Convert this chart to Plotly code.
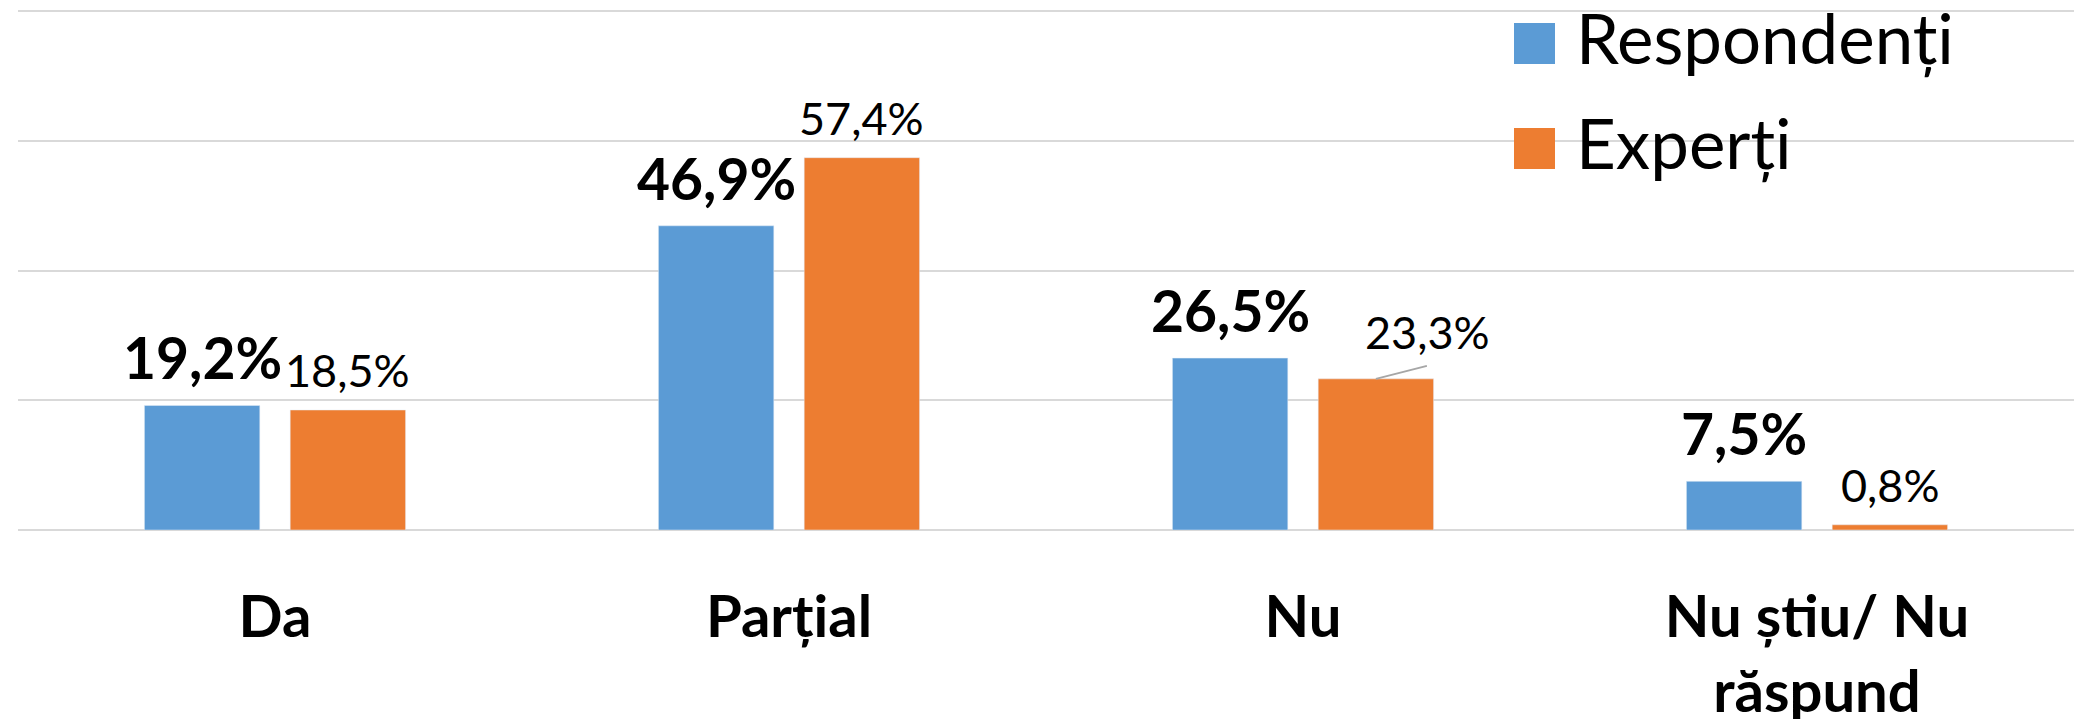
import plotly.graph_objects as go

# ---- data ----
categories = ["Da", "Parțial", "Nu", "Nu știu/ Nu<br>răspund"]
respondenti = [19.2, 46.9, 26.5, 7.5]
experti = [18.5, 57.4, 23.3, 0.8]
series_names = ["Respondenți", "Experți"]
y_ticks = [0, 20, 40, 60, 80]

# ---- style ----
BLUE = "#5B9BD5"
ORANGE = "#ED7D31"
GRID = "#D9D9D9"
FONT = "Lato"
W, H = 2074, 719
ML, MR, MT, MB = 18, 0, 7, 189
Y_MAX = 80.63
BAR_W = 0.2245
GAP = 0.0591
CENTER_OFF = (BAR_W + GAP) / 2
LEADER_INDEX = 2  # experti label moved aside with a leader line

def fmt(v):
    return f"{v:.1f}".replace(".", ",") + "%"

idx = list(range(len(categories)))

fig = go.Figure()
fig.add_trace(go.Bar(x=idx, y=respondenti, name=series_names[0], marker_color=BLUE,
                     width=BAR_W, offset=-BAR_W - GAP / 2, showlegend=False))
fig.add_trace(go.Bar(x=idx, y=experti, name=series_names[1], marker_color=ORANGE,
                     width=BAR_W, offset=GAP / 2, showlegend=False))

annotations = []
shapes = []
for i, v in zip(idx, respondenti):
    annotations.append(dict(x=i - CENTER_OFF, y=v, xref="x", yref="y", text=fmt(v),
                            showarrow=False, yanchor="bottom", xanchor="center", yshift=12,
                            font=dict(family=FONT, size=57, color="black", weight="bold")))
for i, v in zip(idx, experti):
    if i == LEADER_INDEX:
        annotations.append(dict(x=i + CENTER_OFF, y=v, xref="x", yref="y", text=fmt(v),
                                showarrow=False, yanchor="bottom", xanchor="center",
                                xshift=52, yshift=18,
                                font=dict(family=FONT, size=45, color="black")))
        shapes.append(dict(type="line", xref="x", yref="y", xsizemode="pixel", ysizemode="pixel",
                           xanchor=i + CENTER_OFF, yanchor=v, x0=0, y0=0, x1=51, y1=13,
                           line=dict(color="#A6A6A6", width=2)))
    else:
        annotations.append(dict(x=i + CENTER_OFF, y=v, xref="x", yref="y", text=fmt(v),
                                showarrow=False, yanchor="bottom", xanchor="center", yshift=11,
                                font=dict(family=FONT, size=45, color="black")))

# manual legend (large squares)
plot_w = W - ML - MR
plot_h = H - MT - MB
def px_x(p):
    return (p - ML) / plot_w
def px_y(p):
    return (H - MB - p) / plot_h

legend_rows = [(series_names[0], BLUE, 23), (series_names[1], ORANGE, 128)]
for name, col, top in legend_rows:
    shapes.append(dict(type="rect", xref="paper", yref="paper",
                       x0=px_x(1514), x1=px_x(1555), y0=px_y(top + 41), y1=px_y(top),
                       fillcolor=col, line=dict(width=0)))
    annotations.append(dict(x=px_x(1574), y=px_y(top + 14), xref="paper", yref="paper",
                            text=name, showarrow=False, xanchor="left", yanchor="middle",
                            font=dict(family=FONT, size=69, color="black")))

fig.update_layout(
    width=W, height=H,
    margin=dict(l=ML, r=MR, t=MT, b=MB, autoexpand=False),
    paper_bgcolor="white", plot_bgcolor="white",
    barmode="group",
    showlegend=False,
    annotations=annotations,
    shapes=shapes,
    font=dict(family=FONT, color="black"),
)
fig.update_xaxes(
    range=[-0.5, len(categories) - 0.5],
    tickmode="array", tickvals=idx, ticktext=categories,
    tickfont=dict(family=FONT, size=58, color="black", weight="bold"),
    showgrid=False, zeroline=False, showline=False, ticks="",
    ticklabelstandoff=48, automargin=False,
)
fig.update_yaxes(
    range=[0, Y_MAX], tickmode="array", tickvals=y_ticks,
    showticklabels=False, showgrid=True, gridcolor=GRID, gridwidth=2,
    zeroline=True, zerolinecolor=GRID, zerolinewidth=2, showline=False, ticks="",
    automargin=False,
)

fig.write_html("out.html", config={"displayModeBar": False},
               post_script="document.body.style.margin='0px';")
